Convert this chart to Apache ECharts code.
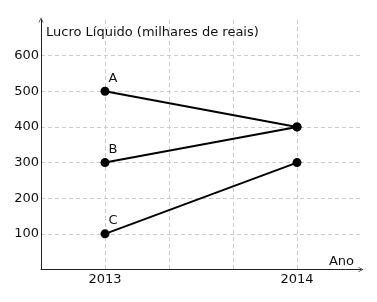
<!DOCTYPE html>
<html><head><meta charset="utf-8">
<script src="https://cdn.jsdelivr.net/npm/echarts@6/dist/echarts.min.js"></script>
<style>html,body{margin:0;padding:0;background:#fff}#c{width:377px;height:302px}</style>
</head><body><div id="c"></div>
<script>
// x slots: '' placeholders give spacing; years at slots 1 and 4
const xSlots = ['', '2013', '', '', '2014', ''];
const years = ['2013', '2014'];
const seriesNames = ['A', 'B', 'C'];
const valuesA = [500, 400];
const valuesB = [300, 400];
const valuesC = [100, 300];
const yTicks = [100, 200, 300, 400, 500, 600];
const yMax = 700;

const chart = echarts.init(document.getElementById('c'), null, {renderer: 'canvas'});
const font = 'DejaVu Sans';
const fs = 13;
const arrow = 'path://M0,10 L5,0 L10,10 L8.6,10 L5,2.8 L1.4,10 Z';

function mk(name, vals) {
  const data = xSlots.map(s => {
    const i = years.indexOf(s);
    return i >= 0 ? vals[i] : null;
  });
  const firstIdx = xSlots.indexOf(years[0]);
  return {
    name: name, type: 'line', data: data, connectNulls: true,
    symbol: 'circle', symbolSize: 9,
    lineStyle: {color: '#000', width: 2},
    itemStyle: {color: '#000'},
    label: {
      show: true, position: 'top', offset: [8, 3],
      fontFamily: font, fontSize: fs, color: '#111',
      formatter: p => p.dataIndex === firstIdx ? name : ''
    },
    emphasis: {disabled: true}, animation: false
  };
}

chart.setOption({
  animation: false,
  grid: {left: 41, right: 16, top: 20, bottom: 32.5, containLabel: false},
  xAxis: {
    type: 'category', data: xSlots, boundaryGap: false,
    name: 'Ano', nameLocation: 'end', nameGap: -7,
    nameTextStyle: {fontFamily: font, fontSize: fs, color: '#111', align: 'right', verticalAlign: 'bottom', padding: [0, 0, 1, 0]},
    axisLine: {lineStyle: {color: '#222', width: 1}, symbol: ['none', arrow], symbolSize: [7, 5]},
    axisTick: {show: false},
    axisLabel: {fontFamily: font, fontSize: fs, color: '#111', margin: 4, interval: 0},
    splitLine: {show: true, interval: (i) => i > 0 && i < xSlots.length - 1, lineStyle: {color: '#ccc', type: [4, 3], width: 1}}
  },
  yAxis: {
    type: 'value', min: 0, max: yMax, interval: 100,
    name: 'Lucro Líquido (milhares de reais)', nameLocation: 'end', nameGap: -19,
    nameTextStyle: {fontFamily: font, fontSize: fs, color: '#111', align: 'left', verticalAlign: 'bottom', padding: [0, 0, 0, 5]},
    axisLine: {show: true, lineStyle: {color: '#222', width: 1}, symbol: ['none', arrow], symbolSize: [7, 5]},
    axisTick: {show: false},
    axisLabel: {fontFamily: font, fontSize: fs, color: '#111', margin: 2,
      formatter: v => yTicks.indexOf(v) >= 0 ? String(v) : ''},
    splitLine: {show: true, showMinLine: false, showMaxLine: false, lineStyle: {color: '#ccc', type: [4, 3], width: 1}}
  },
  series: [mk(seriesNames[0], valuesA), mk(seriesNames[1], valuesB), mk(seriesNames[2], valuesC)]
});
</script></body></html>
